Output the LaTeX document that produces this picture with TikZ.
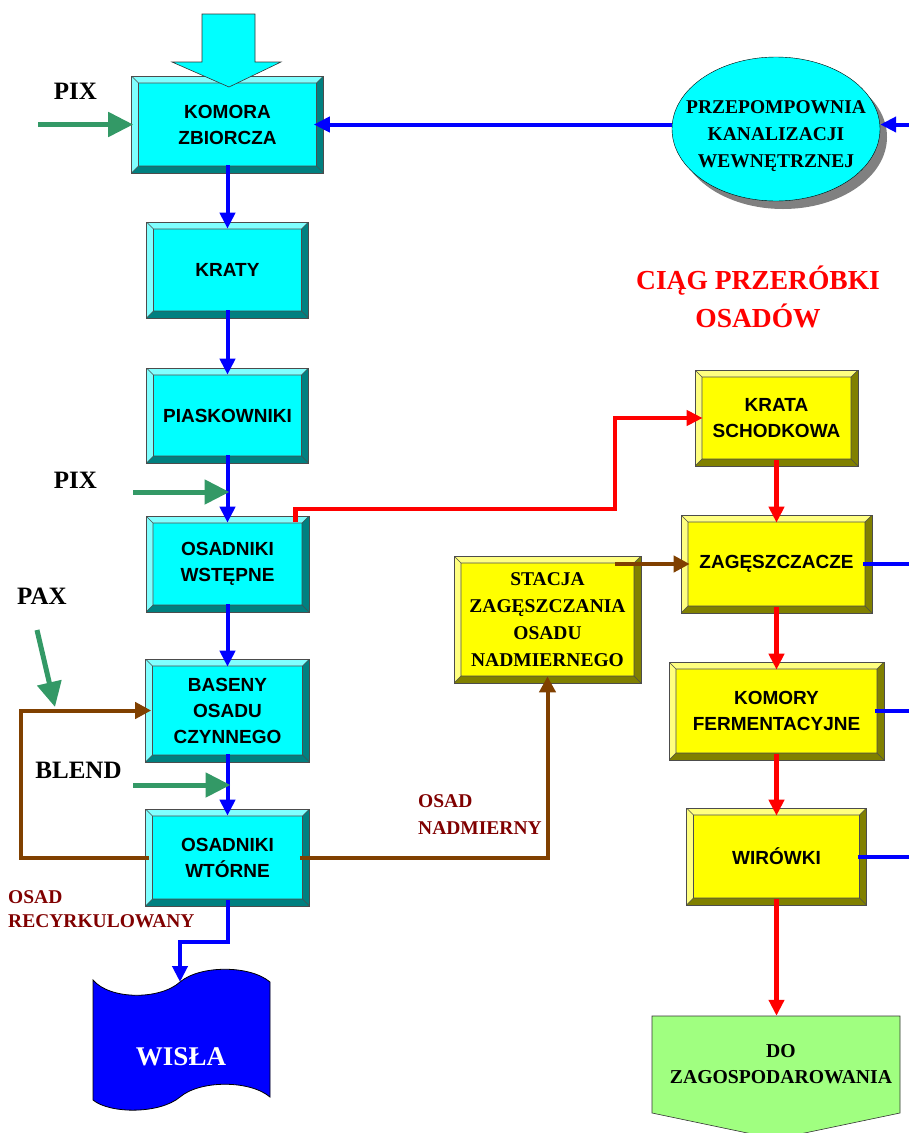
\documentclass[tikz,border=0pt]{standalone}
\usepackage{fontspec}
\setmainfont{Liberation Serif}
\setsansfont{Liberation Sans}
\usetikzlibrary{arrows.meta, shapes.geometric, shadows, calc}

\definecolor{boxcyan}{HTML}{00FFFF}
\definecolor{cyanlight}{HTML}{80FFFF}
\definecolor{cyandark}{HTML}{008080}
\definecolor{boxyellow}{HTML}{FFFF00}
\definecolor{yellowlight}{HTML}{FFFF80}
\definecolor{yellowdark}{HTML}{808000}
\definecolor{flowblue}{HTML}{0000FF}
\definecolor{flowred}{HTML}{FF0000}
\definecolor{flowgreen}{HTML}{339966}
\definecolor{flowbrown}{HTML}{804000}
\definecolor{notered}{HTML}{800000}
\definecolor{outgreen}{HTML}{A0FF80}

\newcommand\sansbox{\sffamily\bfseries\fontsize{19}{26}\selectfont}
\newcommand\serbox{\rmfamily\bfseries\fontsize{19.5}{27}\selectfont}
\newcommand\lblfont{\rmfamily\bfseries\fontsize{25}{30}\selectfont}
\newcommand\ttlfont{\rmfamily\bfseries\fontsize{27.5}{38}\selectfont}

\tikzset{
  bevel/.style n args={3}{rectangle, fill=#1, draw=black!70, line width=0.6pt,
    path picture={
      \path (path picture bounding box.north west) coordinate (bvA)
            (path picture bounding box.north east) coordinate (bvB)
            (path picture bounding box.south east) coordinate (bvC)
            (path picture bounding box.south west) coordinate (bvD)
            ($(bvA)+(7pt,-7pt)$) coordinate (bva)
            ($(bvB)+(-7pt,-7pt)$) coordinate (bvb)
            ($(bvC)+(-7pt,7pt)$) coordinate (bvc)
            ($(bvD)+(7pt,7pt)$) coordinate (bvd);
      \fill[#2] (bvA) -- (bvB) -- (bvb) -- (bva) -- (bvd) -- (bvD) -- cycle;
      \fill[#3] (bvC) -- (bvD) -- (bvd) -- (bvc) -- (bvb) -- (bvB) -- cycle;
      \draw[line width=0.6pt] (bva) rectangle (bvc) (bvA) -- (bva) (bvB) -- (bvb)
            (bvC) -- (bvc) (bvD) -- (bvd);
    }},
}

\begin{document}
\begin{tikzpicture}[x=1pt, y=-1pt,
    cyanbox/.style={bevel={boxcyan}{cyanlight}{cyandark}, font=\sansbox, align=center},
    yellowbox/.style={bevel={boxyellow}{yellowlight}{yellowdark}, font=\sansbox, align=center},
    blueline/.style={draw=flowblue, line width=4pt},
    bluearr/.style={blueline, -{Triangle[length=16pt,width=15pt]}},
    redarr/.style={draw=flowred, line width=4.5pt, -{Triangle[length=16pt,width=15pt]}},
    brownarr/.style={draw=flowbrown, line width=4pt, -{Triangle[length=16pt,width=16pt]}},
    greenarr/.style={draw=flowgreen, line width=5pt, -{Triangle[length=25pt,width=24pt]}},
    note/.style={font=\rmfamily\bfseries\fontsize{19.5}{27}\selectfont, text=notered, align=left, inner sep=0pt, anchor=north west}]
  \useasboundingbox (0,0) rectangle (909,1133);
  \coordinate (redge) at (909,0);

  % main sewage line
  \node[cyanbox, minimum width=192pt, minimum height=97pt] (komora) at (227.5,124.5) {KOMORA\\ZBIORCZA};
  \node[cyanbox, minimum width=162pt, minimum height=96pt] (kraty) at (227.5,270) {KRATY};
  \node[cyanbox, minimum width=162pt, minimum height=95pt] (piask) at (227.5,415.5) {PIASKOWNIKI};
  \node[cyanbox, minimum width=163pt, minimum height=96pt] (wstepne) at (227.5,564) {OSADNIKI\\WSTĘPNE};
  \node[cyanbox, minimum width=164pt, minimum height=103pt] (baseny) at (227.5,710.5) {BASENY\\OSADU\\CZYNNEGO};
  \node[cyanbox, minimum width=164pt, minimum height=97pt] (wtorne) at (227.5,857.5) {OSADNIKI\\WTÓRNE};

  \draw[fill=boxcyan, draw=black!80, line width=0.6pt] (202,14) -- (255,14) -- (255,62) -- (281,62)
    -- (229,87) -- (172,62) -- (202,62) -- cycle;

  \node[ellipse, draw, fill=boxcyan, minimum width=208pt, minimum height=144pt,
    drop shadow={shadow xshift=7pt, shadow yshift=-8pt, fill=gray, opacity=1}] (przep) at (776,129) {};
  \node[font=\serbox, align=center] (przeptext) at ([yshift=-7pt]przep.center) {PRZEPOMPOWNIA\\KANALIZACJI\\WEWNĘTRZNEJ};

  % sludge line
  \node[font=\ttlfont, text=flowred, align=center] (title) at (758,297) {CIĄG PRZERÓBKI\\OSADÓW};
  \node[yellowbox, minimum width=163pt, minimum height=96pt] (krata) at (776.5,418) {KRATA\\SCHODKOWA};
  \node[yellowbox, minimum width=191pt, minimum height=98pt] (zag) at (776.5,564) {ZAGĘSZCZACZE};
  \node[yellowbox, minimum width=215pt, minimum height=98pt] (ferm) at (776.5,711) {KOMORY\\FERMENTACYJNE};
  \node[yellowbox, minimum width=180pt, minimum height=97pt] (wir) at (776.5,856.5) {WIRÓWKI};
  \node[yellowbox, font=\serbox, minimum width=187pt, minimum height=127pt] (stacja) at (547.5,619.5) {STACJA\\ZAGĘSZCZANIA\\OSADU\\NADMIERNEGO};

  \draw[fill=flowblue, draw=black, line width=0.8pt] (93,980) .. controls (110,1000) and (160,1000) .. (180,982)
    .. controls (200,965) and (250,965) .. (270,982) -- (270,1097)
    .. controls (250,1080) and (200,1080) .. (180,1097)
    .. controls (160,1114) and (110,1114) .. (93,1100) -- cycle;
  \node[font=\rmfamily\bfseries\fontsize{27}{30}\selectfont, text=white] (wisla) at (181,1057) {WISŁA};
  \coordinate (wislatop) at (180,982);

  \draw[fill=outgreen, draw=black!80, line width=0.6pt] (652,1016) -- (900,1016) -- (900,1113)
    -- (776,1139) -- (652,1113) -- cycle;
  \node[font=\rmfamily\bfseries\fontsize{19.7}{26}\selectfont, align=center, minimum width=248pt, minimum height=97pt] (dozag) at (781,1064.5) {DO\\ZAGOSPODAROWANIA};

  % labels
  \node[font=\lblfont] (pixa) at (75.5,91.5) {PIX};
  \node[font=\lblfont] (pixb) at (75.5,480) {PIX};
  \node[font=\lblfont] (pax) at (42,596) {PAX};
  \node[font=\lblfont] (blend) at (78.5,770) {BLEND};
  \node[note] (nadm) at (418,794) {OSAD\\NADMIERNY};
  \node[note, font=\rmfamily\bfseries\fontsize{19.5}{24}\selectfont] (recyrk) at (8,890) {OSAD\\RECYRKULOWANY};

  % blue flow
  \draw[bluearr] (redge |- komora.east) -- (przep.east |- komora.east);
  \draw[bluearr] (przep.west |- komora.east) -- ([xshift=-10pt]komora.east);
  \draw[bluearr] ([yshift=8pt]komora.south) -- ([yshift=-7pt]kraty.north);
  \draw[bluearr] ([yshift=8pt]kraty.south) -- ([yshift=-7pt]piask.north);
  \draw[bluearr] ([yshift=8pt]piask.south) -- ([yshift=-7pt]wstepne.north);
  \draw[bluearr] ([yshift=8pt]wstepne.south) -- ([yshift=-8pt]baseny.north);
  \draw[bluearr] ([yshift=8pt]baseny.south) -- ([yshift=-7pt]wtorne.north);
  \draw[bluearr] ([yshift=6pt]wtorne.south) -- ++(0,42) -| (wislatop);
  \draw[blueline] ([xshift=-9pt]zag.east) -- (zag.east -| redge);
  \draw[blueline] ([xshift=-9pt]ferm.east) -- (ferm.east -| redge);
  \draw[blueline] ([xshift=-9pt]wir.east) -- (wir.east -| redge);

  % chemicals
  \coordinate (pixain) at (38,124.5);
  \coordinate (pixbin) at (133,492);
  \coordinate (blendin) at (133,785);
  \coordinate (paxin) at (37,630);
  \coordinate (paxend) at (55,707);
  \draw[greenarr] (pixain) -- ([xshift=2pt]komora.west);
  \draw[greenarr] (pixbin) -- ([xshift=2pt]pixbin -| wstepne.center);
  \draw[greenarr] (blendin) -- ([xshift=3pt]blendin -| wtorne.center);
  \draw[greenarr] (paxin) -- (paxend);

  % sludge
  \draw[brownarr] ([xshift=4pt]wtorne.west) -- ++(-128,0) |- ([xshift=6pt]baseny.west);
  \draw[brownarr] ([xshift=-10pt]wtorne.east) -| ([yshift=7pt]stacja.south);
  \draw[brownarr] ($(stacja.east |- zag.west)+(-26pt,0pt)$) -- ([xshift=9pt]zag.west);
  \coordinate (redturn) at (615,509);
  \draw[redarr] ([xshift=-14pt,yshift=-6pt]wstepne.north east) |- (redturn) |- ([xshift=8pt]krata.west);
  \draw[redarr] ([yshift=6pt]krata.south) -- ([yshift=-8pt]zag.north);
  \draw[redarr] ([yshift=6pt]zag.south) -- ([yshift=-8pt]ferm.north);
  \draw[redarr] ([yshift=6pt]ferm.south) -- ([yshift=-8pt]wir.north);
  \draw[redarr] ([yshift=6pt]wir.south) -- (wir.south |- dozag.north);
\end{tikzpicture}
\end{document}
